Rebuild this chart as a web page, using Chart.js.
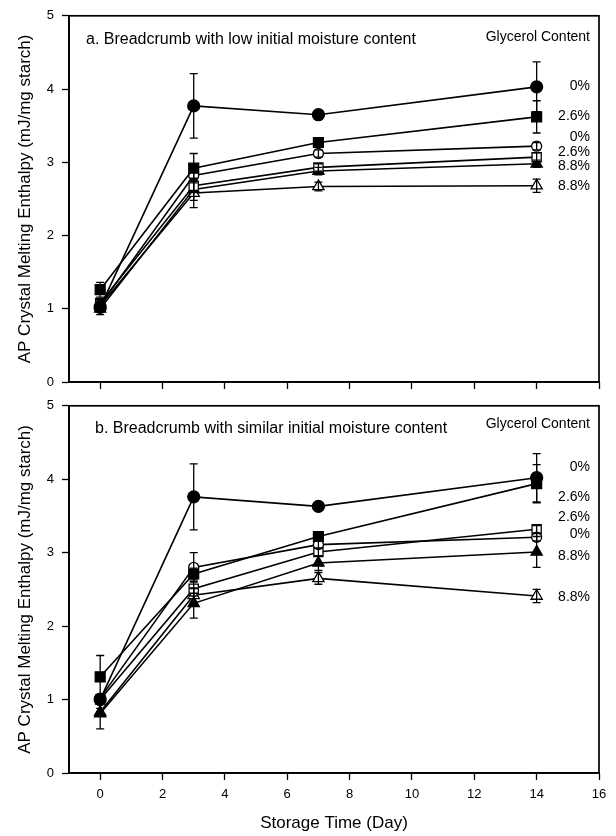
<!DOCTYPE html>
<html>
<head>
<meta charset="utf-8">
<script src="https://cdn.jsdelivr.net/npm/chart.js@4/dist/chart.umd.min.js"></script>
<style>
  body { margin: 0; background: #fff; }
  #wrap { position: relative; width: 616px; height: 836px; }
  canvas { position: absolute; left: 0; }
</style>
</head>
<body>
<div id="wrap">
  <canvas id="chartA" width="616" height="400" style="top:0"></canvas>
  <canvas id="chartB" width="616" height="446" style="top:390px"></canvas>
</div>
<script>
// storage days and axis ticks
const days = [0, 3, 7, 14];
const xTicks = [0, 2, 4, 6, 8, 10, 12, 14, 16];
const yTicks = [0, 1, 2, 3, 4, 5];

// panel a: low initial moisture
const aFilledCircle   = [1.02, 3.77, 3.65, 4.03];
const aFilledSquare   = [1.26, 2.92, 3.27, 3.62];
const aOpenCircle     = [1.05, 2.82, 3.12, 3.22];
const aOpenSquare     = [1.08, 2.68, 2.93, 3.07];
const aFilledTriangle = [1.00, 2.63, 2.88, 2.98];
const aOpenTriangle   = [1.04, 2.58, 2.67, 2.68];
const aFilledCircleErr   = [0.10, 0.44, 0.04, 0.34];
const aFilledSquareErr   = [0.10, 0.20, 0.05, 0.22];
const aOpenCircleErr     = [0.05, 0.08, 0.05, 0.05];
const aOpenSquareErr     = [0.05, 0.08, 0.05, 0.06];
const aFilledTriangleErr = [0.05, 0.15, 0.05, 0.05];
const aOpenTriangleErr   = [0.06, 0.20, 0.06, 0.09];

// panel b: similar initial moisture
const bFilledCircle   = [1.00, 3.76, 3.63, 4.02];
const bFilledSquare   = [1.31, 2.71, 3.22, 3.94];
const bOpenCircle     = [1.02, 2.80, 3.11, 3.21];
const bOpenSquare     = [1.00, 2.51, 3.01, 3.32];
const bFilledTriangle = [0.81, 2.31, 2.86, 3.01];
const bOpenTriangle   = [0.83, 2.42, 2.65, 2.41];
const bFilledCircleErr   = [0.05, 0.45, 0.03, 0.33];
const bFilledSquareErr   = [0.29, 0.08, 0.05, 0.26];
const bOpenCircleErr     = [0.05, 0.20, 0.05, 0.05];
const bOpenSquareErr     = [0.05, 0.10, 0.05, 0.05];
const bFilledTriangleErr = [0.21, 0.20, 0.10, 0.21];
const bOpenTriangleErr   = [0.05, 0.10, 0.08, 0.09];

// glycerol labels at right side
const aLabels = ['0%', '2.6%', '0%', '2.6%', '8.8%', '8.8%'];
const aLabelY = [4.04, 3.63, 3.35, 3.14, 2.95, 2.68];
const bLabels = ['0%', '2.6%', '2.6%', '0%', '8.8%', '8.8%'];
const bLabelY = [4.16, 3.75, 3.48, 3.25, 2.95, 2.40];

const FONT = 'Arial, "Liberation Sans", sans-serif';

// marker look for each series
const markers = [
  { style: 'circle',   fill: '#000', r: 6 },
  { style: 'rect',     fill: '#000', r: 7 },
  { style: 'circle',   fill: '#fff', r: 5 },
  { style: 'rect',     fill: '#fff', r: 6.5 },
  { style: 'triangle', fill: '#000', r: 6.5 },
  { style: 'triangle', fill: '#fff', r: 6.5 }
];

function makeDatasets(series, errors) {
  return series.map((vals, k) => ({
    data: days.map((d, i) => ({ x: d, y: vals[i] })),
    errors: errors[k],
    borderColor: '#000',
    borderWidth: 1.6,
    pointStyle: markers[k].style,
    pointRadius: markers[k].r,
    pointBackgroundColor: markers[k].fill,
    pointBorderColor: '#000',
    pointBorderWidth: 1.3,
    fill: false,
    tension: 0
  }));
}

// frame, error bars and text annotations
const decor = {
  id: 'decor',
  afterDatasetsDraw(chart, args, opts) {
    const { ctx, chartArea: a, scales: { x, y } } = chart;
    ctx.save();
    ctx.strokeStyle = '#000';
    ctx.lineWidth = 1.3;
    chart.data.datasets.forEach(ds => {
      ds.errors.forEach((e, i) => {
        const px = x.getPixelForValue(ds.data[i].x);
        const t = y.getPixelForValue(ds.data[i].y + e);
        const b = y.getPixelForValue(ds.data[i].y - e);
        ctx.beginPath();
        ctx.moveTo(px, t); ctx.lineTo(px, b);
        ctx.moveTo(px - 4, t); ctx.lineTo(px + 4, t);
        ctx.moveTo(px - 4, b); ctx.lineTo(px + 4, b);
        ctx.stroke();
      });
    });
    ctx.lineWidth = 1.7;
    ctx.strokeRect(a.left, a.top, a.width, a.height);

    ctx.fillStyle = '#000';
    ctx.textBaseline = 'alphabetic';
    ctx.textAlign = 'left';
    ctx.font = '16px ' + FONT;
    ctx.fillText(opts.title, a.left + opts.titleDx, a.top + opts.titleDy);
    ctx.textAlign = 'right';
    ctx.font = '14px ' + FONT;
    ctx.fillText('Glycerol Content', a.right - 9, a.top + opts.glyDy);
    ctx.textBaseline = 'middle';
    opts.labels.forEach((s, i) => {
      ctx.fillText(s, a.right - 9, y.getPixelForValue(opts.labelY[i]));
    });
    ctx.restore();
  }
};

function makeScales(bottom) {
  return {
    x: {
      type: 'linear', min: -1, max: 16,
      afterBuildTicks: s => { s.ticks = xTicks.map(v => ({ value: v })); },
      afterFit: s => { s.height = bottom ? 63 : 18; },
      grid: { drawOnChartArea: false, tickLength: 7, tickColor: '#000', tickWidth: 1.3 },
      border: { color: '#000', width: 1.7 },
      ticks: { display: bottom, color: '#000', font: { family: FONT, size: 13 }, padding: 7 },
      title: {
        display: bottom, text: 'Storage Time (Day)', color: '#000',
        font: { family: FONT, size: 17 }, padding: { top: 0, bottom: 2 }
      }
    },
    y: {
      min: 0, max: 5,
      afterBuildTicks: s => { s.ticks = yTicks.map(v => ({ value: v })); },
      afterFit: s => { s.width = 69; },
      grid: { drawOnChartArea: false, tickLength: 7, tickColor: '#000', tickWidth: 1.3 },
      border: { color: '#000', width: 1.7 },
      ticks: { color: '#000', font: { family: FONT, size: 13 }, padding: 8 },
      title: {
        display: true, text: 'AP Crystal Melting Enthalpy (mJ/mg starch)', color: '#000',
        font: { family: FONT, size: 17 }, padding: { top: 15, bottom: 0 }
      }
    }
  };
}

function makeChart(id, series, errors, panel) {
  return new Chart(document.getElementById(id), {
    type: 'line',
    data: { datasets: makeDatasets(series, errors) },
    plugins: [decor],
    options: {
      responsive: false,
      animation: false,
      layout: { padding: panel.padding },
      plugins: {
        legend: { display: false },
        tooltip: { enabled: false },
        decor: panel
      },
      scales: makeScales(panel.bottom)
    }
  });
}

makeChart('chartA',
  [aFilledCircle, aFilledSquare, aOpenCircle, aOpenSquare, aFilledTriangle, aOpenTriangle],
  [aFilledCircleErr, aFilledSquareErr, aOpenCircleErr, aOpenSquareErr, aFilledTriangleErr, aOpenTriangleErr],
  {
    bottom: false,
    padding: { top: 12, right: 17, left: 0, bottom: 0 },
    title: 'a. Breadcrumb with low initial moisture content',
    titleDx: 17, titleDy: 28, glyDy: 25,
    labels: aLabels, labelY: aLabelY
  });

makeChart('chartB',
  [bFilledCircle, bFilledSquare, bOpenCircle, bOpenSquare, bFilledTriangle, bOpenTriangle],
  [bFilledCircleErr, bFilledSquareErr, bOpenCircleErr, bOpenSquareErr, bFilledTriangleErr, bOpenTriangleErr],
  {
    bottom: true,
    padding: { top: 15, right: 17, left: 0, bottom: 0 },
    title: 'b. Breadcrumb with similar initial moisture content',
    titleDx: 26, titleDy: 27, glyDy: 22,
    labels: bLabels, labelY: bLabelY
  });
</script>
</body>
</html>
